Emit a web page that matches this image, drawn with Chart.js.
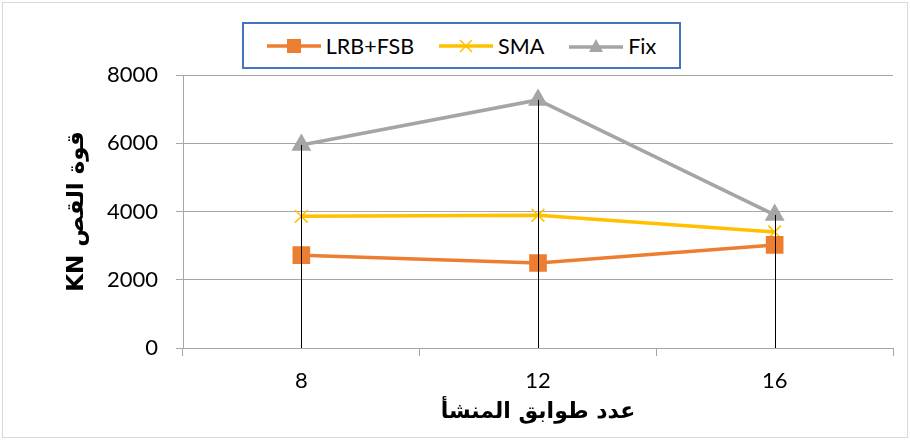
<!DOCTYPE html>
<html lang="ar">
<head>
    <meta charset="UTF-8">
    <title>قوة القص</title>
    <script src="https://cdn.jsdelivr.net/npm/chart.js"></script>
    <style>
        body {
            margin: 0;
            background: white;
        }
        .wrap {
            position: relative;
            width: 910px;
            height: 440px;
        }
        .frame {
            position: absolute;
            left: 2px;
            top: 2px;
            width: 904px;
            height: 434px;
            border: 1px solid #d9d9d9;
        }
        canvas {
            position: absolute;
            left: 0;
            top: 0;
        }
        /* legend box on top */
        .legend {
            position: absolute;
            left: 242px;
            top: 22px;
            width: 435px;
            height: 43px;
            border: 2px solid #4472c4;
            display: flex;
            align-items: center;
            justify-content: center;
            gap: 25px;
            direction: ltr;
            font-family: Lato, 'Open Sans', sans-serif;
            font-size: 21.5px;
            color: #000;
            background: white;
        }
        .legend span {
            display: flex;
            align-items: center;
            gap: 5px;
        }
    </style>
</head>
<body>
<div class="wrap">
    <div class="frame"></div>
    <canvas id="shearChart" width="910" height="440"></canvas>
    <div class="legend">
        <span>
            <svg width="54" height="16"><line x1="0" y1="8" x2="54" y2="8" stroke="#ed7d31" stroke-width="3.5"/><rect x="20" y="1" width="14" height="14" fill="#ed7d31"/></svg>
            LRB+FSB
        </span>
        <span>
            <svg width="54" height="16"><line x1="0" y1="8" x2="54" y2="8" stroke="#ffc000" stroke-width="3.5"/><path d="M21 2 L33 14 M33 2 L21 14" stroke="#ffc000" stroke-width="1.5"/></svg>
            SMA
        </span>
        <span>
            <svg width="54" height="16"><line x1="0" y1="9" x2="54" y2="9" stroke="#a5a5a5" stroke-width="3.5"/><path d="M27 1 L34 14 L20 14 Z" fill="#a5a5a5"/></svg>
            Fix
        </span>
    </div>
</div>

<script>
    // data
    const floors = ['8', '12', '16'];
    const lrbFsb = [2720, 2490, 3020];
    const sma = [3860, 3890, 3400];
    const fix = [5950, 7270, 3900];
    const yTicks = [0, 2000, 4000, 6000, 8000];

    const gridGray = '#a6a6a6';

    // vertical drop lines from the highest point down to the axis
    const dropLines = {
        id: 'dropLines',
        afterDatasetsDraw(chart) {
            const { ctx, scales: { x, y } } = chart;
            ctx.save();
            ctx.strokeStyle = '#000';
            ctx.lineWidth = 1;
            floors.forEach((f, i) => {
                const top = Math.max(lrbFsb[i], sma[i], fix[i]);
                const px = Math.round(x.getPixelForValue(i)) + 0.5;
                ctx.beginPath();
                ctx.moveTo(px, y.getPixelForValue(top));
                ctx.lineTo(px, y.getPixelForValue(yTicks[0]));
                ctx.stroke();
            });
            ctx.restore();
        }
    };

    const ctx = document.getElementById('shearChart').getContext('2d');
    new Chart(ctx, {
        type: 'line',
        data: {
            labels: floors,
            datasets: [
                {
                    label: 'LRB+FSB',
                    data: lrbFsb,
                    borderColor: '#ed7d31',
                    backgroundColor: '#ed7d31',
                    borderWidth: 3.5,
                    pointStyle: 'rect',
                    pointRadius: 10,
                    tension: 0
                },
                {
                    label: 'SMA',
                    data: sma,
                    borderColor: '#ffc000',
                    backgroundColor: '#ffc000',
                    borderWidth: 3.5,
                    pointStyle: 'crossRot',
                    pointRadius: 9,
                    pointBorderWidth: 1.5,
                    tension: 0
                },
                {
                    label: 'Fix',
                    data: fix,
                    borderColor: '#a5a5a5',
                    backgroundColor: '#a5a5a5',
                    borderWidth: 3.5,
                    pointStyle: 'triangle',
                    pointRadius: 8,
                    tension: 0
                }
            ]
        },
        options: {
            responsive: false,
            animation: false,
            layout: {
                padding: { top: 75, right: 17, bottom: 0, left: 61 }
            },
            scales: {
                x: {
                    offset: true,
                    grid: {
                        offset: true,
                        drawOnChartArea: false,
                        tickLength: 8,
                        color: gridGray
                    },
                    border: { color: gridGray },
                    ticks: {
                        color: '#000',
                        padding: 12,
                        font: { family: 'Lato', size: 22 }
                    },
                    title: {
                        display: true,
                        text: 'عدد طوابق المنشأ',
                        color: '#000',
                        padding: { top: 0, bottom: 15 },
                        font: { family: 'DejaVu Sans', size: 22, weight: 'bold' }
                    },
                    afterFit(scale) { scale.height = 92; }
                },
                y: {
                    min: yTicks[0],
                    max: yTicks[yTicks.length - 1],
                    afterBuildTicks(scale) {
                        scale.ticks = yTicks.map(v => ({ value: v }));
                    },
                    grid: {
                        color: gridGray,
                        tickLength: 7
                    },
                    border: { color: gridGray },
                    ticks: {
                        color: '#000',
                        padding: 18,
                        font: { family: 'Lato', size: 22 },
                        callback: v => String(v)
                    },
                    title: {
                        display: true,
                        // right-to-left embedding so KN sits at the bottom
                        text: '\u202Bقوة القص KN\u202C',
                        color: '#000',
                        padding: { top: 2, bottom: 0 },
                        font: { family: 'DejaVu Sans', size: 23, weight: 'bold' }
                    },
                    afterFit(scale) { scale.width = 122; }
                }
            },
            plugins: {
                legend: { display: false },
                tooltip: { enabled: false }
            }
        },
        plugins: [dropLines]
    });
</script>
</body>
</html>
